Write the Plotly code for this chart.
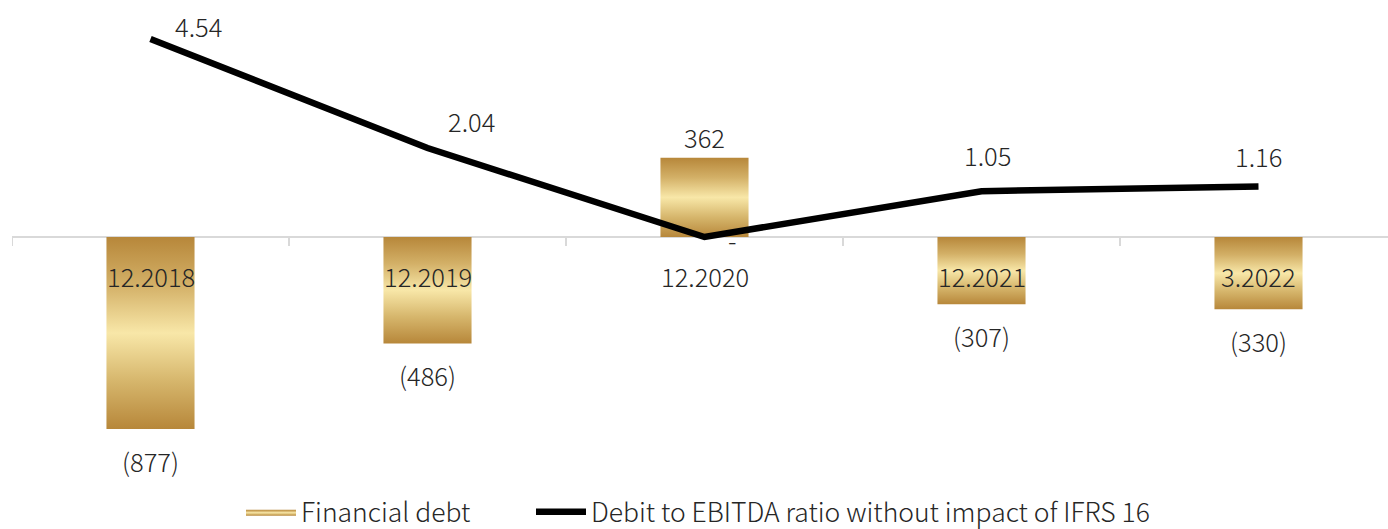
import plotly.graph_objects as go

# Periods and values
categories = ["12.2018", "12.2019", "12.2020", "12.2021", "3.2022"]
financial_debt = [-877, -486, 362, -307, -330]
debt_labels = ["(877)", "(486)", "362", "(307)", "(330)"]
ratio = [4.54, 2.04, 0.0, 1.05, 1.16]
ratio_labels = ["4.54", "2.04", "-", "1.05", "1.16"]

# Label offsets (px) for the ratio line
ratio_label_dx = [48, 44, 28, 6, 0]
ratio_label_dy = [14, 28, -2, 37, 31]

FONT = "Noto Sans CJK SC"
WEIGHT = 300
TEXT_COLOR = "#262626"
GOLD_SCALE = [[0.0, "#b7873a"], [0.25, "#d6b66c"], [0.5, "#f8e7a8"],
              [0.75, "#d3b067"], [1.0, "#b7873a"]]
BAR_HALF = 0.159

fig = go.Figure()

# Financial debt bars: gold-gradient filled rectangles
for i, v in enumerate(financial_debt):
    fig.add_trace(go.Scatter(
        x=[i - BAR_HALF, i + BAR_HALF, i + BAR_HALF, i - BAR_HALF, i - BAR_HALF],
        y=[0, 0, v, v, 0],
        mode="lines", line=dict(width=0, color="rgba(0,0,0,0)"),
        fill="toself",
        fillgradient=dict(type="vertical", colorscale=GOLD_SCALE),
        fillcolor="#d3b067",
        name="Financial debt", legendgroup="debt", showlegend=(i == 0),
        legend="legend", hoverinfo="skip",
    ))

# Debt-to-EBITDA ratio line on the secondary axis
fig.add_trace(go.Scatter(
    x=list(range(len(categories))), y=ratio, yaxis="y2",
    mode="lines", line=dict(color="black", width=6.5),
    name="Debit to EBITDA ratio without impact of IFRS 16",
    legend="legend2",
))

label_font = dict(family=FONT, size=25.5, color=TEXT_COLOR, weight=WEIGHT)

annotations = []
# Bar value labels
for i, (v, lab) in enumerate(zip(financial_debt, debt_labels)):
    annotations.append(dict(
        x=i, y=v, xref="x", yref="y", text=lab, showarrow=False,
        yshift=21 if v > 0 else -31, yanchor="middle", font=label_font,
    ))
# Ratio labels
for i, (v, lab) in enumerate(zip(ratio, ratio_labels)):
    annotations.append(dict(
        x=i, y=v, xref="x", yref="y2", text=lab, showarrow=False,
        xshift=ratio_label_dx[i], yshift=ratio_label_dy[i], yanchor="middle",
        font=label_font,
    ))
# Category labels just under the zero line
for i, c in enumerate(categories):
    annotations.append(dict(
        x=i, y=0, xref="x", yref="y", text=c, showarrow=False,
        yshift=-38, yanchor="middle", font=label_font,
    ))

# Small tick marks at category boundaries
shapes = []
for b in [k - 0.5 for k in range(len(categories))]:
    shapes.append(dict(
        type="line", xref="x", yref="y", x0=b, x1=b,
        ysizemode="pixel", yanchor=0, y0=0, y1=-9,
        line=dict(color="#d9d9d9", width=2),
    ))

legend_font = dict(family=FONT, size=26.5, color=TEXT_COLOR, weight=WEIGHT)
legend_y = (529 - 512) / 529

fig.update_layout(
    width=1388, height=529,
    margin=dict(l=12, r=0, t=10, b=59),
    paper_bgcolor="white", plot_bgcolor="white",
    font=dict(family=FONT, size=25, color=TEXT_COLOR),
    xaxis=dict(range=[-0.5, -0.5 + 1376 / 277], showgrid=False, zeroline=False,
               showticklabels=False, showline=False, fixedrange=True),
    yaxis=dict(range=[-233 / 0.2190, 227 / 0.2190], showgrid=False,
               zeroline=True, zerolinecolor="#d9d9d9", zerolinewidth=2,
               showticklabels=False, showline=False),
    yaxis2=dict(range=[-233 / 43.6, 227 / 43.6], overlaying="y",
                showgrid=False, zeroline=False, showticklabels=False,
                showline=False),
    legend=dict(orientation="h", xref="container", yref="container",
                x=241 / 1388, xanchor="left", y=legend_y, yanchor="middle",
                font=legend_font, itemwidth=50),
    legend2=dict(orientation="h", xref="container", yref="container",
                 x=531 / 1388, xanchor="left", y=legend_y, yanchor="middle",
                 font=legend_font, itemwidth=50),
    annotations=annotations,
    shapes=shapes,
    showlegend=True,
)

fig.write_html("out.html")
